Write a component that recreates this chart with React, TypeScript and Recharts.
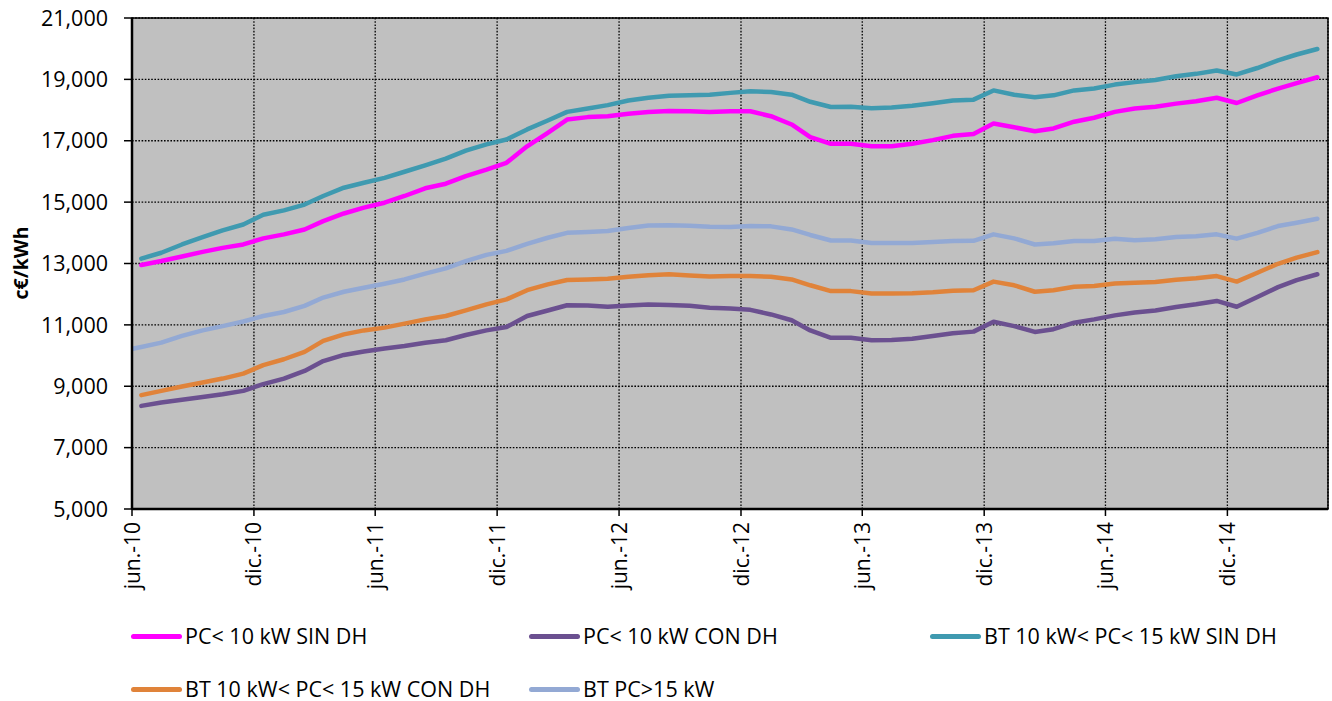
import React from "react";
import {
  LineChart,
  Line,
  XAxis,
  YAxis,
  CartesianGrid,
  ReferenceArea,
} from "recharts";

// months (data sits on the 15th); May 2010 only exists for the PC>15 series
const months = [
  "2010-05", "2010-06", "2010-07", "2010-08", "2010-09", "2010-10", "2010-11", "2010-12",
  "2011-01", "2011-02", "2011-03", "2011-04", "2011-05", "2011-06", "2011-07", "2011-08",
  "2011-09", "2011-10", "2011-11", "2011-12", "2012-01", "2012-02", "2012-03", "2012-04",
  "2012-05", "2012-06", "2012-07", "2012-08", "2012-09", "2012-10", "2012-11", "2012-12",
  "2013-01", "2013-02", "2013-03", "2013-04", "2013-05", "2013-06", "2013-07", "2013-08",
  "2013-09", "2013-10", "2013-11", "2013-12", "2014-01", "2014-02", "2014-03", "2014-04",
  "2014-05", "2014-06", "2014-07", "2014-08", "2014-09", "2014-10", "2014-11", "2014-12",
  "2015-01", "2015-02", "2015-03", "2015-04",
];

const pcSinDh = [
  null,
  12950, 13080, 13230, 13380, 13510, 13620, 13820, 13950, 14110, 14380, 14630, 14820, 14980, 15200, 15450,
  15600, 15850, 16060, 16280, 16820, 17260, 17690, 17770, 17800, 17880, 17940, 17970, 17960, 17940, 17960,
  17960, 17800, 17530, 17120, 16900, 16900, 16820, 16820, 16900, 17020, 17160, 17220, 17560, 17440,
  17310, 17400, 17620, 17750, 17940, 18050, 18110, 18210, 18290, 18400, 18230, 18480, 18700, 18880, 19070,
];

const pcConDh = [
  null,
  8360, 8470, 8560, 8650, 8740, 8850, 9070, 9250, 9500, 9820, 10020, 10130, 10230, 10310, 10420,
  10500, 10670, 10820, 10930, 11290, 11470, 11640, 11630, 11590, 11630, 11660, 11650, 11620, 11560, 11530,
  11490, 11340, 11150, 10820, 10580, 10580, 10500, 10510, 10550, 10640, 10730, 10780, 11100, 10960,
  10770, 10860, 11070, 11180, 11310, 11400, 11470, 11580, 11670, 11780, 11590, 11910, 12230, 12460, 12650,
];

const btSinDh = [
  null,
  13160, 13350, 13620, 13860, 14080, 14270, 14590, 14730, 14920, 15200, 15470, 15630, 15790, 15990, 16200,
  16420, 16680, 16880, 17040, 17370, 17660, 17940, 18050, 18160, 18310, 18400, 18470, 18480, 18500, 18560,
  18610, 18590, 18500, 18270, 18100, 18110, 18060, 18080, 18140, 18220, 18310, 18340, 18640, 18500,
  18420, 18480, 18640, 18700, 18830, 18910, 18980, 19100, 19180, 19290, 19160, 19370, 19620, 19810, 19990,
];

const btConDh = [
  null,
  8710, 8850, 8990, 9120, 9250, 9410, 9690, 9880, 10120, 10480, 10690, 10820, 10910, 11040, 11180,
  11290, 11470, 11670, 11830, 12130, 12320, 12460, 12480, 12500, 12570, 12620, 12650, 12610, 12580, 12590,
  12590, 12570, 12480, 12290, 12100, 12100, 12020, 12020, 12030, 12060, 12110, 12130, 12410, 12290,
  12080, 12130, 12240, 12270, 12350, 12370, 12400, 12470, 12520, 12590, 12410, 12700, 12990, 13190, 13370,
];

const btPc15 = [
  10140,
  10280, 10420, 10640, 10820, 10960, 11110, 11290, 11420, 11620, 11890, 12080, 12210, 12340, 12480, 12670,
  12840, 13080, 13280, 13410, 13640, 13840, 14000, 14030, 14060, 14160, 14240, 14250, 14230, 14200, 14190,
  14220, 14210, 14110, 13930, 13750, 13750, 13670, 13670, 13670, 13700, 13730, 13740, 13950, 13820,
  13620, 13660, 13730, 13730, 13810, 13760, 13790, 13860, 13890, 13950, 13810, 14000, 14220, 14330, 14460,
];

const yTicks = [5000, 7000, 9000, 11000, 13000, 15000, 17000, 19000, 21000];
const xTickMonths = [
  "2010-06", "2010-12", "2011-06", "2011-12", "2012-06",
  "2012-12", "2013-06", "2013-12", "2014-06", "2014-12",
];
const monthNames = ["ene.", "feb.", "mar.", "abr.", "may.", "jun.", "jul.", "ago.", "sep.", "oct.", "nov.", "dic."];

const series = [
  { key: "pcSinDh", name: "PC< 10 kW SIN DH", color: "#FF00FF", values: pcSinDh },
  { key: "pcConDh", name: "PC< 10 kW CON DH", color: "#6B5090", values: pcConDh },
  { key: "btSinDh", name: "BT 10 kW< PC< 15 kW SIN DH", color: "#3F9AB0", values: btSinDh },
  { key: "btConDh", name: "BT 10 kW< PC< 15 kW CON DH", color: "#E0833A", values: btConDh },
  { key: "btPc15", name: "BT PC>15 kW", color: "#93A9D4", values: btPc15 },
];

const toTime = (ym: string, day: number) => {
  const [y, m] = ym.split("-").map(Number);
  return Date.UTC(y, m - 1, day);
};

const data = months.map((ym, i) => {
  const row: any = { t: toTime(ym, 15) };
  series.forEach((s) => {
    row[s.key] = s.values[i];
  });
  return row;
});

const xDomain = [toTime("2010-06", 1), toTime("2015-05", 1)];
const xTicks = xTickMonths.map((ym) => toTime(ym, 1));

const FONT = "'Open Sans', sans-serif";

const fmtMonth = (t: number) => {
  const d = new Date(t);
  return `${monthNames[d.getUTCMonth()]}-${String(d.getUTCFullYear()).slice(2)}`;
};

const XTick = ({ x, y, payload }: any) => (
  <g transform={`translate(${x},${y})`}>
    <text
      transform="rotate(-90)"
      x={-4}
      y={0}
      dy="0.36em"
      textAnchor="end"
      fontSize={21}
      fontFamily={FONT}
      fill="#000"
    >
      {fmtMonth(payload.value)}
    </text>
  </g>
);

const legendPos = [
  { left: 131, top: 636 },
  { left: 529, top: 636 },
  { left: 930, top: 636 },
  { left: 131, top: 689 },
  { left: 529, top: 689 },
];

export default function App() {
  return (
    <div style={{ position: "relative", width: 1332, height: 701, fontFamily: FONT }}>
      <style>{"body{margin:0}"}</style>
      <LineChart
        width={1332}
        height={701}
        data={data}
        margin={{ top: 18, right: 4, left: 0, bottom: 92 }}
      >
        <CartesianGrid
          stroke="#000"
          strokeWidth={1.3}
          strokeDasharray="1.6 1.6"
          fill="#C0C0C0"
          fillOpacity={1}
        />
        <ReferenceArea
          x1={xDomain[0]}
          x2={xDomain[1]}
          y1={5000}
          y2={21000}
          fill="none"
          stroke="#000"
          strokeWidth={1.5}
          strokeOpacity={1}
        />
        <XAxis
          dataKey="t"
          type="number"
          scale="time"
          domain={xDomain}
          allowDataOverflow
          ticks={xTicks}
          interval={0}
          height={100}
          tick={<XTick />}
          tickSize={7}
          tickMargin={2}
          tickLine={{ stroke: "#000", strokeWidth: 1.5 }}
          axisLine={{ stroke: "#000", strokeWidth: 2.5 }}
        />
        <YAxis
          type="number"
          domain={[5000, 21000]}
          ticks={yTicks}
          interval={0}
          width={132}
          tickSize={8}
          tickMargin={16}
          tickFormatter={(v: number) => v.toLocaleString("en-US")}
          tick={{ fontSize: 21.5, fontFamily: FONT, fill: "#000" }}
          tickLine={{ stroke: "#000", strokeWidth: 1.5 }}
          axisLine={{ stroke: "#000", strokeWidth: 2.5 }}
          label={{
            content: () => (
              <text
                x={20}
                y={263}
                transform="rotate(-90 20 263)"
                textAnchor="middle"
                dominantBaseline="central"
                fontSize={19.5}
                fontWeight="bold"
                fontFamily={FONT}
                fill="#000"
              >
                c€/kWh
              </text>
            ),
          }}
        />
        {series.map((s) => (
          <Line
            key={s.key}
            dataKey={s.key}
            name={s.name}
            type="linear"
            stroke={s.color}
            strokeWidth={4.5}
            strokeLinecap="round"
            strokeLinejoin="round"
            dot={false}
            activeDot={false}
            isAnimationActive={false}
          />
        ))}
      </LineChart>
      {series.map((s, i) => (
        <div
          key={s.key}
          style={{
            position: "absolute",
            left: legendPos[i].left,
            top: legendPos[i].top,
            transform: "translateY(-50%)",
            display: "flex",
            alignItems: "center",
            fontSize: 21.5,
            lineHeight: "22px",
            height: 22,
            color: "#000",
            whiteSpace: "nowrap",
          }}
        >
          <span
            style={{
              display: "inline-block",
              width: 51,
              height: 5,
              borderRadius: 3,
              background: s.color,
              marginRight: 3,
            }}
          />
          {s.name}
        </div>
      ))}
    </div>
  );
}
